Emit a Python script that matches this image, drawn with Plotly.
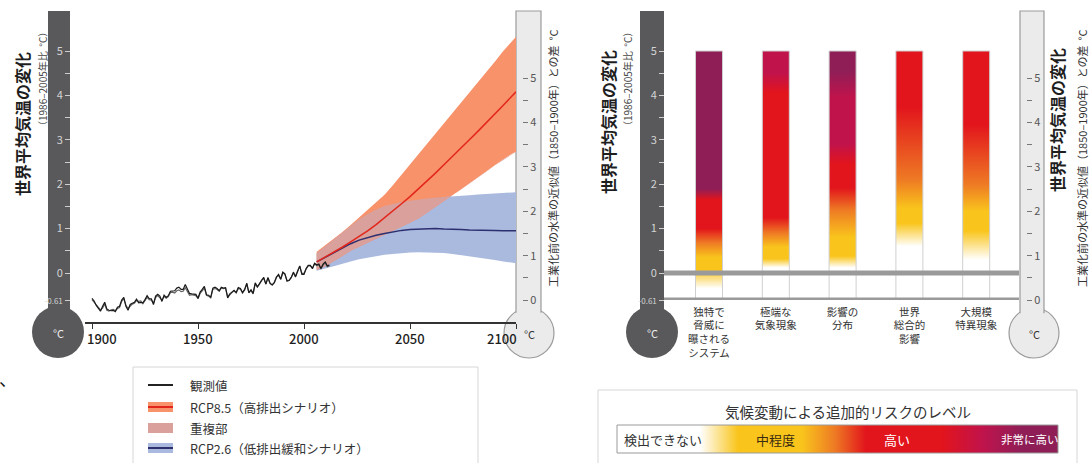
import numpy as np
import plotly.graph_objects as go

W, H = 1090, 463


def px(x):
    return x / W


def py(y):
    return 1 - y / H


# ---------------- data ----------------
OBS_YEARS = list(range(1900, 2013))
OBS_A = [
    -0.57, -0.63, -0.73, -0.81, -0.86, -0.75, -0.66, -0.81, -0.84, -0.85,
    -0.84, -0.87, -0.77, -0.75, -0.61, -0.55, -0.75, -0.84, -0.71, -0.68,
    -0.66, -0.59, -0.67, -0.66, -0.67, -0.60, -0.51, -0.58, -0.58, -0.71,
    -0.52, -0.48, -0.52, -0.64, -0.50, -0.55, -0.51, -0.41, -0.40, -0.40,
    -0.34, -0.32, -0.37, -0.37, -0.26, -0.35, -0.46, -0.47, -0.47, -0.48,
    -0.57, -0.43, -0.37, -0.30, -0.49, -0.50, -0.55, -0.34, -0.32, -0.35,
    -0.40, -0.32, -0.34, -0.33, -0.56, -0.47, -0.43, -0.39, -0.44, -0.33,
    -0.35, -0.44, -0.37, -0.23, -0.44, -0.38, -0.46, -0.22, -0.31, -0.23,
    -0.15, -0.10, -0.25, -0.10, -0.23, -0.27, -0.22, -0.09, -0.03, -0.14,
    0.02, -0.02, -0.18, -0.17, -0.10, 0.02, -0.09, 0.03, 0.16, -0.03,
    -0.03, 0.10, 0.17, 0.17, 0.10, 0.22, 0.18, 0.20, 0.10, 0.20,
    0.25, 0.16, 0.18,
]
OBS_B = [
    -0.60, -0.66, -0.70, -0.78, -0.83, -0.79, -0.70, -0.84, -0.86, -0.83,
    -0.82, -0.85, -0.80, -0.78, -0.64, -0.58, -0.72, -0.80, -0.74, -0.70,
    -0.68, -0.62, -0.64, -0.63, -0.69, -0.62, -0.55, -0.60, -0.61, -0.68,
    -0.55, -0.51, -0.55, -0.61, -0.53, -0.57, -0.53, -0.44, -0.43, -0.45,
    -0.40, -0.38, -0.42, -0.41, -0.33, -0.42, -0.50, -0.49, -0.50, -0.51,
    -0.58, -0.46, -0.40, -0.34, -0.50, -0.52, -0.56, -0.37, -0.35, -0.37,
    -0.41, -0.34, -0.35, -0.34, -0.54, -0.48, -0.44, -0.40, -0.45, -0.35,
    -0.36, -0.45, -0.38, -0.25, -0.45, -0.39, -0.47, -0.24, -0.32, -0.25,
    -0.16, -0.12, -0.25, -0.12, -0.24, -0.27, -0.21, -0.10, -0.05, -0.14,
    0.00, -0.03, -0.18, -0.16, -0.10, 0.00, -0.07, 0.05, 0.15, -0.01,
    -0.01, 0.09, 0.16, 0.16, 0.11, 0.21, 0.17, 0.19, 0.09, 0.18,
    0.23, 0.14, 0.16,
]

PROJ_YEARS = [2006, 2010, 2014, 2018, 2022, 2026, 2030, 2034, 2038, 2042,
              2046, 2050, 2054, 2058, 2062, 2066, 2070, 2074, 2078, 2082,
              2086, 2090, 2094, 2098, 2100]
RCP85_MEAN = [0.25, 0.36, 0.46, 0.58, 0.70, 0.82, 0.95, 1.09, 1.24, 1.40,
              1.56, 1.72, 1.89, 2.07, 2.25, 2.44, 2.62, 2.81, 3.00, 3.19,
              3.38, 3.58, 3.78, 3.98, 4.08]
RCP85_HIGH = [0.48, 0.62, 0.77, 0.92, 1.08, 1.25, 1.42, 1.58, 1.76, 1.98,
              2.21, 2.44, 2.67, 2.90, 3.13, 3.36, 3.59, 3.82, 4.05, 4.28,
              4.52, 4.76, 5.00, 5.22, 5.32]
RCP85_LOW = [0.07, 0.15, 0.26, 0.38, 0.50, 0.60, 0.69, 0.77, 0.86, 0.95,
             1.04, 1.13, 1.23, 1.35, 1.48, 1.62, 1.75, 1.88, 2.01, 2.14,
             2.28, 2.42, 2.56, 2.68, 2.73]
RCP26_MEAN = [0.25, 0.35, 0.45, 0.56, 0.66, 0.74, 0.80, 0.85, 0.89, 0.93,
              0.96, 0.98, 0.99, 1.00, 1.00, 0.99, 0.99, 0.98, 0.97, 0.97,
              0.96, 0.96, 0.95, 0.95, 0.95]
RCP26_HIGH = [0.45, 0.60, 0.76, 0.92, 1.07, 1.21, 1.33, 1.43, 1.51, 1.56,
              1.60, 1.63, 1.66, 1.68, 1.70, 1.71, 1.73, 1.74, 1.75, 1.77,
              1.78, 1.79, 1.80, 1.81, 1.82]
RCP26_LOW = [0.05, 0.10, 0.15, 0.20, 0.26, 0.31, 0.35, 0.38, 0.41, 0.43,
             0.45, 0.46, 0.47, 0.47, 0.46, 0.45, 0.43, 0.41, 0.38, 0.35,
             0.32, 0.29, 0.26, 0.23, 0.22]

YEAR_TICKS = [1900, 1950, 2000, 2050, 2100]
DARK_TICKS = [-0.61, 0, 1, 2, 3, 4, 5]
DARK_TICKTEXT = ['<span style="font-size:8px">-0.61</span>', '0', '1', '2', '3', '4', '5']
LIGHT_TICKS = [0, 1, 2, 3, 4, 5]
HALF_TICKS = [0.5, 1.5, 2.5, 3.5, 4.5]
PREINDUSTRIAL_OFFSET = 0.61

RISK_LABELS = [
    '独特で<br>脅威に<br>曝される<br>システム',
    '極端な<br>気象現象',
    '影響の<br>分布',
    '世界<br>総合的<br>影響',
    '大規模<br>特異現象',
]
COLUMN_RANGE = (-0.61, 5.0)
LEVEL_COLORS = {
    'none': '#ffffff',
    'moderate': '#f9c51c',
    'mod_high': '#ee7a24',
    'high': '#e2141c',
    'high_vh': '#c1134b',
    'very_high': '#8f1e57',
}
RISK_STOPS = [
    [(-0.61, 'none'), (-0.35, 'none'), (0.08, 'moderate'), (0.35, 'moderate'),
     (0.68, 'mod_high'), (1.0, 'high'), (1.65, 'high'), (1.9, 'very_high'), (5.0, 'very_high')],
    [(-0.61, 'none'), (0.12, 'none'), (0.32, 'moderate'), (0.58, 'moderate'),
     (0.9, 'mod_high'), (1.25, 'high'), (4.05, 'high'), (4.5, 'high_vh'), (5.0, 'high_vh')],
    [(-0.61, 'none'), (0.12, 'none'), (0.38, 'moderate'), (0.8, 'moderate'),
     (1.42, 'mod_high'), (1.92, 'high'), (2.45, 'high'), (2.9, 'high_vh'),
     (3.95, 'high_vh'), (4.55, 'very_high'), (5.0, 'very_high')],
    [(-0.61, 'none'), (0.6, 'none'), (1.12, 'moderate'), (1.45, 'moderate'),
     (2.1, 'mod_high'), (3.75, 'high'), (5.0, 'high')],
    [(-0.61, 'none'), (0.3, 'none'), (0.95, 'moderate'), (1.38, 'moderate'),
     (2.0, 'mod_high'), (3.35, 'high'), (5.0, 'high')],
]
RISK_KEY = [('none', 617), ('none', 700), ('moderate', 738), ('moderate', 802),
            ('mod_high', 835), ('high', 866), ('high', 942), ('high_vh', 982),
            ('very_high', 1022), ('very_high', 1058)]

# ---------------- geometry (pixels) ----------------
Y0 = 273.0          # pixel row of 0 on the 1986-2005 scale
S = 44.4            # pixels per degree
TOP = 11.0
LEFT_AXIS_Y = 322.0
BASE_Y = Y0 - COLUMN_RANGE[0] * S
Y_TOP_VAL = (Y0 - TOP) / S
X_PER_YEAR = 2.12
X_1900 = 92.0
COL_X0, COL_DX, COL_W = 709.0, 66.8, 27.0

FONT = 'Noto Sans CJK JP, Noto Sans, sans-serif'
C85_BAND, C26_BAND, C_OVER = '#f8926a', '#aabadf', '#d9a09c'
C85_LINE, C26_LINE = '#e3261c', '#2d2f6f'
DARK, LIGHT, LIGHT_EDGE = '#59595b', '#ebebeb', '#9b9b9b'

fig = go.Figure()


def polygon(xs, lo, hi):
    xs = list(xs)
    return xs + xs[::-1], list(hi) + list(lo)[::-1]


# projection envelopes
for lo, hi, col in [(RCP26_LOW, RCP26_HIGH, C26_BAND), (RCP85_LOW, RCP85_HIGH, C85_BAND)]:
    bx, by = polygon(PROJ_YEARS, lo, hi)
    fig.add_trace(go.Scatter(x=bx, y=by, fill='toself', fillcolor=col, mode='lines',
                             line=dict(width=0), hoverinfo='skip', showlegend=False))
ov_lo = np.maximum(RCP85_LOW, RCP26_LOW)
ov_hi = np.maximum(np.minimum(RCP85_HIGH, RCP26_HIGH), ov_lo)
bx, by = polygon(PROJ_YEARS, ov_lo, ov_hi)
fig.add_trace(go.Scatter(x=bx, y=by, fill='toself', fillcolor=C_OVER, mode='lines',
                         line=dict(width=0), hoverinfo='skip', showlegend=False))

fig.add_trace(go.Scatter(x=OBS_YEARS, y=OBS_B, mode='lines', line=dict(color='#666666', width=1.2),
                         showlegend=False, hoverinfo='skip'))
fig.add_trace(go.Scatter(x=OBS_YEARS, y=OBS_A, mode='lines', line=dict(color='#1a1a1a', width=1.2),
                         showlegend=False, hoverinfo='skip'))
fig.add_trace(go.Scatter(x=PROJ_YEARS, y=RCP26_MEAN, mode='lines', line=dict(color=C26_LINE, width=1.5),
                         showlegend=False, hoverinfo='skip'))
fig.add_trace(go.Scatter(x=PROJ_YEARS, y=RCP85_MEAN, mode='lines', line=dict(color=C85_LINE, width=1.5),
                         showlegend=False, hoverinfo='skip'))

# risk columns
lo_c, hi_c = COLUMN_RANGE
hw = COL_W / COL_DX / 2
for i, stops in enumerate(RISK_STOPS):
    cs = [[(t - lo_c) / (hi_c - lo_c), LEVEL_COLORS[k]] for t, k in stops]
    fig.add_trace(go.Scatter(
        x=[i - hw, i + hw, i + hw, i - hw, i - hw], y=[lo_c, lo_c, hi_c, hi_c, lo_c],
        xaxis='x4', yaxis='y5', mode='lines', fill='toself',
        fillgradient=dict(type='vertical', colorscale=cs, start=lo_c, stop=hi_c),
        line=dict(color='#cfcfcf', width=1), hoverinfo='skip', showlegend=False))

# risk-level key bar
k0, k1 = RISK_KEY[0][1], RISK_KEY[-1][1]
key_cs = [[(p - k0) / (k1 - k0), LEVEL_COLORS[k]] for k, p in RISK_KEY]
fig.add_trace(go.Scatter(
    x=[k0, k1, k1, k0, k0], y=[425, 425, 453, 453, 425], xaxis='x8', yaxis='y8',
    mode='lines', fill='toself',
    fillgradient=dict(type='horizontal', colorscale=key_cs, start=k0, stop=k1),
    line=dict(color='#9a9a9a', width=1), hoverinfo='skip', showlegend=False))

# placeholders so the scale axes get drawn
for xa, ya in [('x', 'y2'), ('x', 'y3'), ('x4', 'y6'), ('x4', 'y7')]:
    fig.add_trace(go.Scatter(x=[None], y=[None], xaxis=xa, yaxis=ya, showlegend=False, hoverinfo='skip'))

shapes = []
annotations = []


def note(text, x, y, size, color, xanchor='center', **kw):
    annotations.append(dict(text=text, x=px(x), y=py(y), xref='paper', yref='paper',
                            xanchor=xanchor, yanchor='middle', showarrow=False,
                            font=dict(size=size, color=color, weight=kw.pop('weight', 'normal')),
                            **kw))


def dark_thermo(x0, x1, cx, cy, r):
    shapes.append(dict(type='rect', xref='paper', yref='paper', x0=px(x0), x1=px(x1),
                       y0=py(cy), y1=py(TOP), fillcolor=DARK, line=dict(width=0), layer='below'))
    shapes.append(dict(type='circle', xref='paper', yref='paper', x0=px(cx - r), x1=px(cx + r),
                       y0=py(cy + r), y1=py(cy - r), fillcolor=DARK, line=dict(width=0), layer='below'))
    note('°C', cx, cy + 1, 11, '#eeeeee')


def light_thermo(x0, x1, cx, cy, r):
    shapes.append(dict(type='circle', xref='paper', yref='paper', x0=px(cx - r), x1=px(cx + r),
                       y0=py(cy + r), y1=py(cy - r), fillcolor=LIGHT,
                       line=dict(color=LIGHT_EDGE, width=1.2), layer='below'))
    yb = cy - np.sqrt(r ** 2 - (cx - x0) ** 2) + 1
    path = (f'M {px(x0)},{py(yb)} L {px(x0)},{py(TOP)} '
            f'L {px(x1)},{py(TOP)} L {px(x1)},{py(yb)}')
    shapes.append(dict(type='path', xref='paper', yref='paper', path=path, fillcolor=LIGHT,
                       line=dict(color=LIGHT_EDGE, width=1.2), layer='below'))
    note('°C', cx, cy + 1, 11, '#333333')


dark_thermo(48, 70, 58, 332, 26)
dark_thermo(640, 664, 652, 332, 26)
light_thermo(516, 541, 529, 333, 25)
light_thermo(1020, 1044, 1034, 333, 25)

# reference bars across the risk panel
for v in (0, COLUMN_RANGE[0]):
    shapes.append(dict(type='line', xref='x4 domain', yref='y5', x0=0, x1=1, y0=v, y1=v,
                       line=dict(color='#9a9a9a', width=5), layer='above'))

TITLE = '世界平均気温の変化'
SUB = '（1986–2005年比  °C）'
PRE = '工業化前の水準の近似値（1850–1900年）との差  °C'
for text, x, y, size, color, weight in [
        (TITLE, 22, 124, 16, '#1e1e1e', 'bold'), (SUB, 42, 79, 10, '#444444', 'normal'),
        (PRE, 553, 158, 11, '#333333', 'normal'),
        (TITLE, 608, 122, 16, '#1e1e1e', 'bold'), (SUB, 627, 79, 10, '#444444', 'normal'),
        (TITLE, 1057, 120, 16, '#1e1e1e', 'bold'), (PRE, 1082, 158, 11, '#333333', 'normal')]:
    note(text, x, y, size, color, textangle=-90, weight=weight)

# year labels
label_shift = {1900: 10, 2100: -14}
for yr in YEAR_TICKS:
    annotations.append(dict(text=str(yr), x=yr, xref='x', y=py(338), yref='paper',
                            xanchor='center', yanchor='middle',
                            xshift=label_shift.get(yr, 0), showarrow=False,
                            font=dict(size=13, color='#1e1e1e', weight=500)))

# left legend
shapes.append(dict(type='rect', xref='paper', yref='paper', x0=px(133), x1=px(478),
                   y0=py(475), y1=py(367), fillcolor='white', line=dict(color='#d6d6d6', width=1),
                   layer='below'))
k_x0, k_x1 = px(148), px(173)
shapes.append(dict(type='line', xref='paper', yref='paper', x0=k_x0, x1=k_x1, y0=py(385), y1=py(385),
                   line=dict(color='#222222', width=2)))
for yc, fill, line in [(407, C85_BAND, C85_LINE), (428, C_OVER, None), (448, C26_BAND, C26_LINE)]:
    shapes.append(dict(type='rect', xref='paper', yref='paper', x0=k_x0, x1=k_x1,
                       y0=py(yc + 5), y1=py(yc - 5), fillcolor=fill, line=dict(width=0)))
    if line:
        shapes.append(dict(type='line', xref='paper', yref='paper', x0=k_x0, x1=k_x1,
                           y0=py(yc), y1=py(yc), line=dict(color=line, width=2)))
for yc, txt in [(385, '観測値'), (407, 'RCP8.5（高排出シナリオ）'), (428, '重複部'),
                (448, 'RCP2.6（低排出緩和シナリオ）')]:
    note(txt, 188, yc, 12.5, '#333333', xanchor='left')

# right legend
shapes.append(dict(type='rect', xref='paper', yref='paper', x0=px(598), x1=px(1077),
                   y0=py(475), y1=py(390), fillcolor='white', line=dict(color='#d6d6d6', width=1),
                   layer='below'))
note('気候変動による追加的リスクのレベル', 848, 411, 14.5, '#333333')
for xc, txt, col, size in [(663, '検出できない', '#333333', 13), (775, '中程度', '#3a2a10', 13),
                           (897, '高い', '#ffffff', 13), (1030, '非常に高い', '#ffffff', 11.5)]:
    note(txt, xc, 439, size, col)

note('、', -3, 378, 18, '#111111', xanchor='left')

HIDE = dict(showgrid=False, zeroline=False, showticklabels=False, ticks='', showline=False)
left_range = [(Y0 - LEFT_AXIS_Y) / S, Y_TOP_VAL]
right_range = [COLUMN_RANGE[0], Y_TOP_VAL]


def dark_axis(base, rng, pos):
    return dict(overlaying=base, anchor='free', position=px(pos), side='left', range=rng,
                tickmode='array', tickvals=DARK_TICKS, ticktext=DARK_TICKTEXT,
                ticks='outside', ticklen=5, tickwidth=1, tickcolor='#cfcfcf',
                tickfont=dict(size=11, color='#d4d4d4'),
                minor=dict(tickvals=HALF_TICKS, ticks='outside', ticklen=5, tickcolor='#cfcfcf'),
                showgrid=False, zeroline=False, showline=False)


def light_axis(base, rng, pos):
    return dict(overlaying=base, anchor='free', position=px(pos), side='right',
                range=[rng[0] + PREINDUSTRIAL_OFFSET, rng[1] + PREINDUSTRIAL_OFFSET],
                tickmode='array', tickvals=LIGHT_TICKS,
                ticks='outside', ticklen=5, tickwidth=1, tickcolor='#777777',
                tickfont=dict(size=11, color='#555555'),
                minor=dict(tickvals=HALF_TICKS, ticks='outside', ticklen=5, tickcolor='#777777'),
                showgrid=False, zeroline=False, showline=False)


fig.update_layout(
    width=W, height=H, margin=dict(l=0, r=0, t=0, b=0),
    template='none', paper_bgcolor='white', plot_bgcolor='rgba(0,0,0,0)',
    font=dict(family=FONT, color='#333333'), showlegend=False,
    xaxis=dict(domain=[px(85), px(516)], range=[1900 - (X_1900 - 85) / X_PER_YEAR, 2100],
               anchor='y', showline=True, linecolor='#333333', linewidth=1.6,
               tickmode='array', tickvals=YEAR_TICKS, ticks='outside', ticklen=5,
               tickcolor='#333333', showticklabels=False, showgrid=False, zeroline=False),
    yaxis=dict(domain=[py(LEFT_AXIS_Y), py(TOP)], range=left_range, anchor='x', **HIDE),
    yaxis2=dark_axis('y', left_range, 70),
    yaxis3=light_axis('y', left_range, 522),
    xaxis4=dict(domain=[px(664), px(1019)],
                range=[(664 - COL_X0) / COL_DX, (1019 - COL_X0) / COL_DX], anchor='y5',
                tickmode='array', tickvals=list(range(len(RISK_LABELS))), ticktext=RISK_LABELS,
                ticks='', showline=False, showgrid=False, zeroline=False,
                tickfont=dict(size=10.5, color='#333333'), ticklabelstandoff=4),
    yaxis5=dict(domain=[py(BASE_Y), py(TOP)], range=right_range, anchor='x4', **HIDE),
    yaxis6=dark_axis('y5', right_range, 664),
    yaxis7=light_axis('y5', right_range, 1026),
    xaxis8=dict(domain=[0, 1], range=[0, W], anchor='y8', visible=False),
    yaxis8=dict(domain=[0, 1], range=[H, 0], anchor='x8', visible=False),
    shapes=shapes, annotations=annotations,
)

fig.write_html('out.html')
